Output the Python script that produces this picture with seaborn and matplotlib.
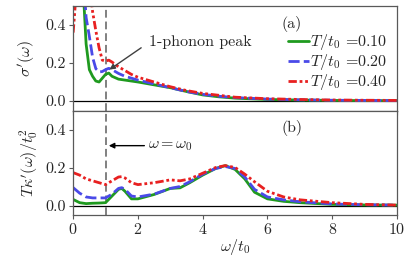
import numpy as np
import pandas as pd
import matplotlib
matplotlib.use("Agg")
import matplotlib.pyplot as plt
import seaborn as sns

# dados
w_top = [0, 0.05, 0.1, 0.2, 0.3, 0.4, 0.5, 0.6, 0.7, 0.8, 0.9, 1.0, 1.1, 1.2, 1.4,
         1.6, 1.8, 2.0, 2.5, 3, 3.5, 4, 4.5, 5, 6, 7, 8, 9, 10]
sig_010 = [2.0, 1.8, 1.5, 1.0, 0.62, 0.3, 0.165, 0.13, 0.105, 0.10, 0.12, 0.14, 0.147,
           0.13, 0.115, 0.11, 0.105, 0.10, 0.085, 0.07, 0.05, 0.032, 0.022, 0.015,
           0.008, 0.005, 0.003, 0.002, 0.002]
sig_020 = [2.0, 1.8, 1.5, 1.0, 0.7, 0.44, 0.34, 0.23, 0.17, 0.153, 0.155, 0.165, 0.172,
           0.165, 0.145, 0.13, 0.12, 0.11, 0.09, 0.07, 0.05, 0.035, 0.025, 0.018,
           0.01, 0.006, 0.004, 0.003, 0.002]
sig_040 = [0.36, 0.47, 0.6, 0.9, 1.0, 0.85, 0.62, 0.47, 0.37, 0.28, 0.215, 0.21, 0.215,
           0.205, 0.18, 0.16, 0.14, 0.125, 0.1, 0.075, 0.055, 0.04, 0.03, 0.02,
           0.012, 0.008, 0.005, 0.004, 0.003]

w_bot = [0, 0.2, 0.4, 0.6, 0.8, 1.0, 1.2, 1.4, 1.5, 1.6, 1.8, 2.0, 2.5, 3.0, 3.3, 3.6,
         4.0, 4.4, 4.7, 5.0, 5.3, 5.6, 6.0, 6.5, 7, 8, 9, 10]
kap_010 = [0.032, 0.015, 0.01, 0.012, 0.013, 0.015, 0.05, 0.085, 0.09, 0.075, 0.035,
           0.035, 0.058, 0.09, 0.093, 0.12, 0.16, 0.195, 0.21, 0.19, 0.14, 0.07,
           0.035, 0.022, 0.015, 0.006, 0.003, 0.002]
kap_020 = [0.094, 0.065, 0.045, 0.04, 0.04, 0.04, 0.06, 0.09, 0.094, 0.085, 0.05,
           0.045, 0.06, 0.09, 0.1, 0.125, 0.165, 0.195, 0.205, 0.195, 0.15, 0.085,
           0.045, 0.03, 0.02, 0.008, 0.004, 0.002]
kap_040 = [0.173, 0.16, 0.14, 0.13, 0.12, 0.11, 0.13, 0.15, 0.152, 0.145, 0.12, 0.11,
           0.12, 0.135, 0.13, 0.14, 0.17, 0.2, 0.21, 0.2, 0.165, 0.125, 0.075, 0.045,
           0.03, 0.015, 0.006, 0.002]

temps = ["0.10", "0.20", "0.40"]
cores = ["#1f9a1f", "#4a4ae8", "#e82020"]
estilos = ["-", (0, (4, 1.5)), (0, (3, 1, 1, 1, 1, 1))]

fs = 11.5

sns.set_style("ticks")
plt.rcParams["font.family"] = "serif"
plt.rcParams["font.serif"] = ["cmr10", "DejaVu Serif"]
plt.rcParams["mathtext.fontset"] = "cm"
plt.rcParams["axes.formatter.use_mathtext"] = True
plt.rcParams["axes.unicode_minus"] = False

fig, (ax1, ax2) = plt.subplots(2, 1, figsize=(4.11, 2.60), dpi=100, sharex=True)
fig.subplots_adjust(left=0.178, right=0.966, top=0.977, bottom=0.173, hspace=0)

for ax, w, series in [(ax1, w_top, [sig_010, sig_020, sig_040]),
                      (ax2, w_bot, [kap_010, kap_020, kap_040])]:
    for y, t, c, ls in zip(series, temps, cores, estilos):
        sns.lineplot(x=w, y=y, ax=ax, color=c, linestyle=ls, linewidth=2,
                     label=r"$T/t_0$ =" + t)
    ax.axhline(0, color="k", lw=0.9, zorder=0)
    ax.axvline(1, color="0.5", lw=1.4, ls=(0, (4, 2)), zorder=0)
    ax.set_ylim(-0.05, 0.5)
    ax.set_yticks([0.0, 0.2, 0.4])
    ax.set_yticklabels(["0.0", "0.2", "0.4"])
    ax.tick_params(direction="out", length=3, labelsize=fs, color="0.35", pad=2)
    for s in ax.spines.values():
        s.set_color("0.35")
        s.set_linewidth(0.9)

ax1.set_xlim(0, 10)
ax2.set_xticks([0, 2, 4, 6, 8, 10])
ax1.set_ylabel(r"$\sigma'(\omega)$", fontsize=fs, labelpad=6)
ax2.set_ylabel(r"$T\kappa'(\omega)/t_0^2$", fontsize=fs, labelpad=4)
ax2.set_xlabel(r"$\omega/t_0$", fontsize=fs, labelpad=0)

ax1.legend(loc="upper right", bbox_to_anchor=(1.0, 0.84), frameon=False,
           fontsize=fs, handlelength=1.3, handletextpad=0.1, labelspacing=0.0,
           borderaxespad=0.2)
ax2.get_legend().remove()

ax1.text(6.75, 0.385, "(a)", fontsize=fs, ha="center")
ax2.text(6.75, 0.385, "(b)", fontsize=fs, ha="center")

ax1.text(2.35, 0.31, "1-phonon peak", fontsize=fs, va="center")
ax1.annotate("", xy=(1.12, 0.165), xytext=(2.1, 0.28),
             arrowprops=dict(arrowstyle="-|>", color="0.25", lw=1.0,
                             shrinkA=0, shrinkB=0, mutation_scale=8))
ax2.annotate(r"$\omega = \omega_0$", xy=(1.1, 0.315), xytext=(2.3, 0.315),
             fontsize=fs, va="center",
             arrowprops=dict(arrowstyle="-|>", color="k", lw=1.0,
                             shrinkA=0, shrinkB=0, mutation_scale=8))

fig.savefig("out.png", dpi=100)
